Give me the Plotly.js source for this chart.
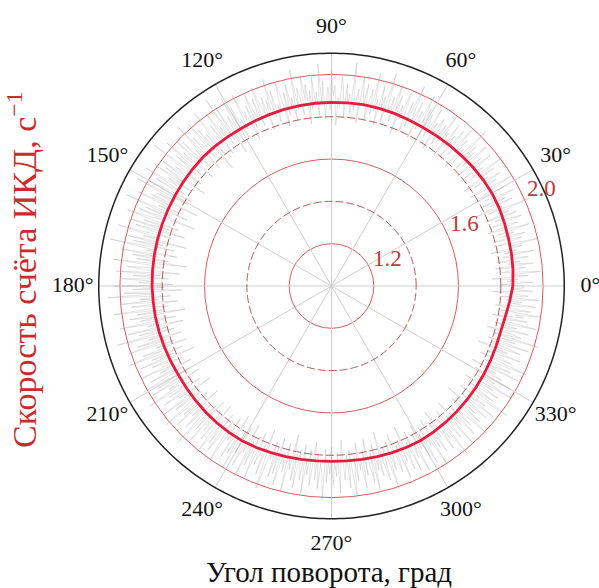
<!DOCTYPE html>
<html>
<head>
<meta charset="utf-8">
<script src="https://cdn.plot.ly/plotly-3.0.1.min.js"></script>
<style>html,body{margin:0;padding:0;background:#fff;}#chart{width:599px;height:588px;}</style>
</head>
<body>
<div id="chart"></div>
<script>
// Angular ticks (degrees) and labels
const angleTicks = [0,30,60,90,120,150,180,210,240,270,300,330];
const angleTickText = ['0°','30°','60°','90°','120°','150°','180°','210°','240°','270°','300°','330°'];
// Radial axis: data range is 1.0 .. 2.1 (outer circle); extra room holds angle labels
const radialMin = 1.0;
const radialOuter = 2.1;
const labelGap = 0.123;
const radialSolidTicks = [1.2, 1.6, 2.0];
const radialSolidText = ['1.2', '1.6', '2.0'];
const radialDashedTicks = [1.4, 1.8];

// Raw count rate (grey), sampled every 0.5 degrees starting at 0
const rawStep = 0.5;
const rawRate = [
1.91,1.80,1.95,1.83,1.88,1.76,1.93,1.85,1.99,1.81,1.87,1.92,1.78,1.96,1.84,1.90,1.79,1.94,1.86,1.82,
1.97,1.83,1.89,1.77,1.92,1.86,2.00,1.81,1.88,1.93,1.79,1.95,1.84,1.90,1.82,1.98,1.85,1.78,1.93,1.87,
1.81,1.96,1.88,1.83,1.94,1.79,1.91,1.86,2.02,1.82,1.89,1.76,1.95,1.84,1.92,1.80,1.97,1.87,1.83,1.90,
1.94,1.81,1.89,1.99,1.84,1.78,1.93,1.87,1.96,1.82,1.90,1.77,1.95,1.86,2.01,1.83,1.91,1.88,1.80,1.97,
1.85,1.93,1.79,1.89,1.98,1.84,1.92,1.81,1.95,1.87,2.03,1.82,1.90,1.78,1.94,1.86,1.99,1.83,1.88,1.96,
1.80,1.92,1.85,1.97,1.79,1.91,1.87,2.00,1.84,1.93,1.82,1.89,1.95,1.78,1.92,1.86,1.98,1.83,1.90,1.94,
1.81,1.96,1.88,2.02,1.84,1.93,1.79,1.97,1.87,1.91,2.04,1.83,1.95,1.80,1.89,1.99,1.85,1.92,1.77,1.96,
1.88,2.01,1.82,1.94,1.86,1.90,2.05,1.81,1.93,1.87,1.98,1.79,1.91,1.85,2.03,1.83,1.95,1.89,1.80,1.97,
1.86,1.92,2.00,1.78,1.94,1.88,1.84,2.06,1.82,1.91,1.87,1.96,1.80,1.93,1.99,1.85,1.89,1.76,1.95,1.90,
2.02,1.83,1.94,1.88,1.79,1.97,1.86,2.05,1.81,1.92,1.87,1.99,1.84,1.93,1.77,1.96,1.89,2.01,1.82,1.90,
1.95,1.85,2.04,1.80,1.91,1.87,1.98,1.83,1.94,1.78,1.92,2.00,1.86,1.89,1.81,1.97,1.84,2.03,1.88,1.93,
1.79,1.95,1.87,1.91,2.01,1.82,1.96,1.85,1.89,1.99,1.83,1.94,1.77,1.92,1.88,2.02,1.84,1.90,1.80,1.97,
1.86,2.03,1.79,1.94,1.88,1.75,1.99,1.83,2.06,1.81,1.92,1.87,2.01,1.78,1.95,1.84,1.90,2.04,1.80,1.93,
1.73,1.97,1.86,2.02,1.82,1.89,1.96,1.77,2.05,1.85,1.91,1.79,1.98,1.84,2.00,1.76,1.94,1.88,2.03,1.81,
1.95,1.83,1.90,2.07,1.78,1.93,1.86,1.99,1.74,1.96,1.85,2.01,1.80,1.92,1.87,2.04,1.82,1.97,1.77,1.91,
1.99,1.78,2.05,1.84,1.93,1.72,1.96,1.86,2.02,1.80,1.90,1.75,2.06,1.83,1.95,1.70,1.98,1.85,1.91,2.03,
1.77,1.94,1.81,2.00,1.73,1.97,1.87,1.79,2.05,1.84,1.92,1.71,1.99,1.82,1.96,1.76,2.07,1.86,1.89,1.74,
2.01,1.83,1.95,1.78,1.93,1.69,2.04,1.85,1.80,1.97,1.88,1.72,2.02,1.81,1.94,1.77,1.99,1.84,1.91,1.75,
2.03,1.79,1.94,1.71,1.98,1.84,2.06,1.76,1.91,1.82,2.00,1.73,1.95,1.86,1.78,2.04,1.81,1.93,1.70,1.97,
1.85,1.92,1.75,2.02,1.83,1.89,1.72,1.99,1.80,1.94,1.77,2.05,1.84,1.90,1.74,1.96,1.82,2.01,1.79,1.88,
1.73,1.95,1.86,2.03,1.76,1.92,1.81,1.98,1.71,1.93,1.85,1.78,2.00,1.83,1.91,1.75,1.97,1.80,1.89,2.02,
1.78,1.95,1.83,1.99,1.74,1.91,1.86,2.03,1.80,1.93,1.76,1.97,1.84,1.89,1.72,2.00,1.82,1.94,1.79,1.88,
2.02,1.77,1.92,1.85,1.98,1.73,1.90,1.83,1.96,1.80,1.87,2.04,1.78,1.93,1.75,1.99,1.84,1.91,1.81,1.95,
1.74,1.89,2.01,1.82,1.94,1.77,1.97,1.86,1.79,1.92,2.00,1.76,1.88,1.83,1.96,1.73,1.93,1.85,1.99,1.80,
1.91,1.77,1.97,1.84,1.89,1.74,2.01,1.82,1.94,1.79,1.88,1.99,1.76,1.92,1.85,1.81,1.96,1.73,1.90,2.02,
1.83,1.87,1.78,1.95,1.80,1.93,1.75,1.98,1.86,1.82,1.91,1.77,2.00,1.84,1.89,1.72,1.94,1.81,1.97,1.79,
1.87,1.93,1.76,1.99,1.83,1.90,1.78,1.95,1.85,1.74,1.92,1.80,1.96,1.84,1.88,2.01,1.77,1.93,1.82,1.89,
1.76,1.94,1.83,1.90,1.79,1.98,1.84,1.73,1.92,1.87,1.80,1.96,1.78,1.89,2.00,1.82,1.93,1.75,1.88,1.84,
1.97,1.79,1.91,1.74,1.86,1.95,1.81,1.99,1.77,1.90,1.83,1.93,1.72,1.88,1.96,1.80,1.85,2.01,1.78,1.92,
1.84,1.75,1.94,1.87,1.81,1.98,1.79,1.90,1.73,1.95,1.86,1.82,1.97,1.77,1.91,1.84,1.99,1.80,1.88,1.76,
1.93,1.81,1.97,1.78,1.89,1.85,2.00,1.76,1.92,1.83,1.95,1.79,1.88,1.74,1.96,1.86,1.91,1.80,2.02,1.84,
1.77,1.94,1.87,1.82,1.99,1.75,1.90,1.85,1.97,1.79,1.93,1.83,1.88,2.01,1.78,1.95,1.81,1.91,1.73,1.96,
1.86,1.80,1.98,1.84,1.92,1.77,1.89,2.03,1.82,1.94,1.79,1.87,1.95,1.76,1.91,1.85,2.00,1.81,1.90,1.83,
1.97,1.78,1.92,1.84,1.88,1.75,1.99,1.82,1.94,1.80,1.90,2.01,1.77,1.93,1.85,1.79,1.96,1.83,1.89,1.74,
1.95,1.86,1.81,1.98,1.78,1.91,1.84,2.02,1.80,1.93,1.87,1.76,1.96,1.83,1.90,1.79,1.99,1.85,1.82,1.94,
1.77,1.92,1.88,2.00,1.81,1.95,1.84,1.78,1.97,1.86,1.90,1.83,1.98,1.80,1.93,1.87,1.76,1.95,1.85,1.91
];

// Smoothed count rate (red), every 5 degrees from 0 to 360
const smoothStep = 5;
const smoothRate = [
1.857,1.861,1.864,1.866,1.870,1.874,1.876,1.875,1.873,1.870,1.868,1.866,
1.865,1.866,1.868,1.869,1.870,1.869,1.868,1.867,1.866,1.864,1.862,1.860,
1.858,1.859,1.860,1.860,1.858,1.856,1.854,1.853,1.852,1.851,1.850,1.849,
1.848,1.846,1.845,1.843,1.841,1.839,1.837,1.838,1.840,1.842,1.844,1.845,
1.845,1.842,1.838,1.835,1.832,1.830,1.829,1.830,1.832,1.835,1.838,1.841,
1.843,1.842,1.840,1.838,1.836,1.834,1.832,1.830,1.828,1.828,1.834,1.845,
1.857
];

const rawTheta = rawRate.map((_, i) => i * rawStep);
const smoothTheta = smoothRate.map((_, i) => i * smoothStep);
const circleTheta = [];
for (let a = 0; a <= 360; a += 1) circleTheta.push(a);

const serif = 'Liberation Serif, Times New Roman, serif';
const traces = [];

// spokes every 30 degrees, from centre to the outer circle
angleTicks.forEach(t => {
  traces.push({
    type: 'scatterpolar', mode: 'lines', r: [radialMin, radialOuter], theta: [t, t],
    line: {color: '#cfcfcf', width: 1}, hoverinfo: 'skip', showlegend: false
  });
});

traces.push({
  type: 'scatterpolar', mode: 'lines', r: rawRate, theta: rawTheta,
  line: {color: 'rgba(160,160,160,0.5)', width: 0.6}, hoverinfo: 'skip', showlegend: false
});

radialDashedTicks.forEach(v => {
  traces.push({
    type: 'scatterpolar', mode: 'lines', r: circleTheta.map(() => v), theta: circleTheta,
    line: {color: '#b55252', width: 1, dash: '8px,3px'}, hoverinfo: 'skip', showlegend: false
  });
});

// outer black circle
traces.push({
  type: 'scatterpolar', mode: 'lines', r: circleTheta.map(() => radialOuter), theta: circleTheta,
  line: {color: '#222', width: 1.5}, hoverinfo: 'skip', showlegend: false
});

traces.push({
  type: 'scatterpolar', mode: 'lines', r: smoothRate, theta: smoothTheta,
  line: {color: '#ea1a3d', width: 2.8}, hoverinfo: 'skip', showlegend: false
});

// radial tick labels (red), just outside their circles
traces.push({
  type: 'scatterpolar', mode: 'text',
  r: radialSolidTicks.map(v => v + 0.09), theta: radialSolidTicks.map(() => 24.5),
  text: radialSolidText, textfont: {family: serif, size: 23, color: '#c0393b'},
  cliponaxis: false, hoverinfo: 'skip', showlegend: false
});

// angular tick labels, centred just outside the outer circle
traces.push({
  type: 'scatterpolar', mode: 'text',
  r: angleTicks.map(() => radialOuter + labelGap), theta: angleTicks,
  text: angleTickText, textfont: {family: serif, size: 22, color: '#111'},
  cliponaxis: false, hoverinfo: 'skip', showlegend: false
});

const layout = {
  width: 599, height: 588,
  margin: {l: 0, r: 0, t: 0, b: 0},
  paper_bgcolor: '#fff',
  showlegend: false,
  polar: {
    domain: {x: [72.5/599, 590.5/599], y: [43/588, 561/588]},
    bgcolor: 'rgba(0,0,0,0)',
    radialaxis: {
      range: [radialMin, radialOuter + labelGap + 0.001], tickvals: radialSolidTicks, showticklabels: false,
      ticks: '', showline: false, gridcolor: '#dd5a5a', gridwidth: 1
    },
    angularaxis: {
      direction: 'counterclockwise', rotation: 0,
      showline: false, showgrid: false, ticks: '', showticklabels: false
    }
  },
  annotations: [
    {text: 'Скорость счёта ИКД, с<sup>−1</sup>', xref: 'paper', yref: 'paper',
     x: 22/599, y: 1 - 270/588, xanchor: 'center', yanchor: 'middle', textangle: -90,
     showarrow: false, font: {family: serif, size: 34, color: '#cc2b2b'}},
    {text: 'Угол поворота, град', xref: 'paper', yref: 'paper',
     x: 329/599, y: 1 - 572/588, xanchor: 'center', yanchor: 'middle',
     showarrow: false, font: {family: serif, size: 29, color: '#111'}}
  ]
};

Plotly.newPlot('chart', traces, layout, {staticPlot: true, displayModeBar: false});
</script>
</body>
</html>
